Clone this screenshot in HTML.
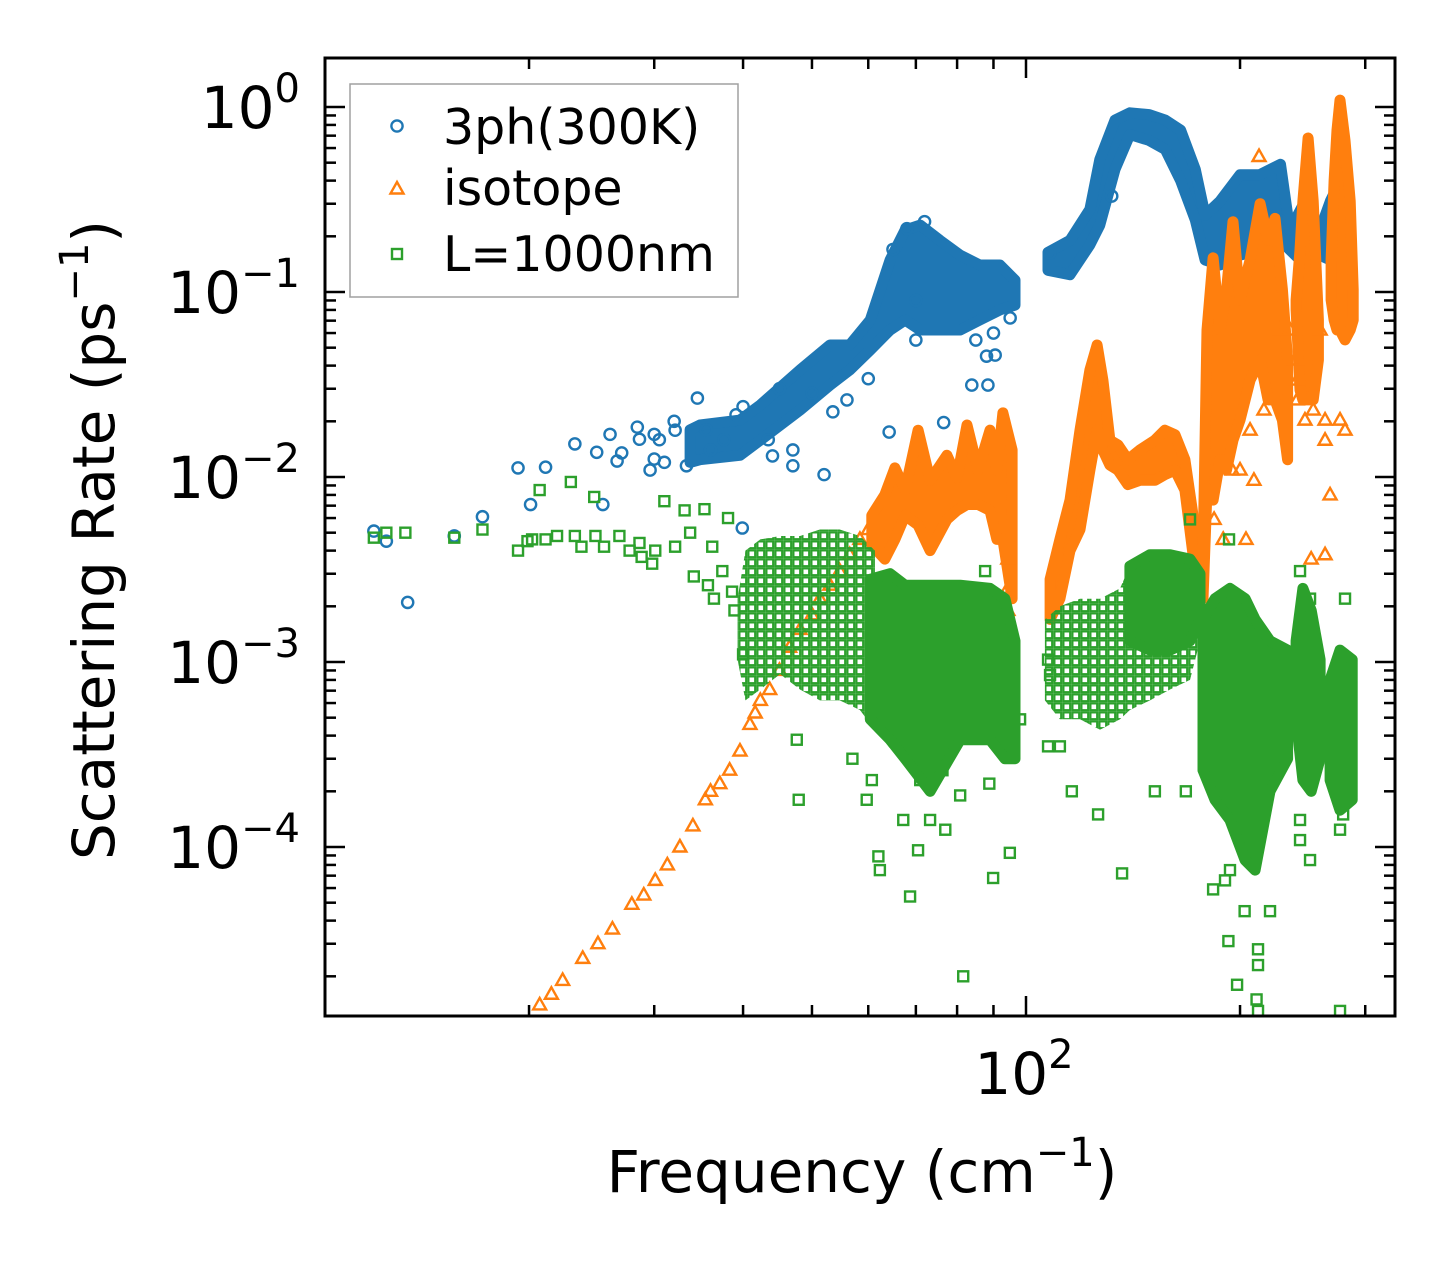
<!DOCTYPE html>
<html><head><meta charset="utf-8"><style>
html,body{margin:0;padding:0;background:#fff;}
svg{display:block;font-family:"DejaVu Sans","Liberation Sans",sans-serif;}
</style></head><body>
<svg id="chart" width="1455" height="1265" viewBox="0 0 1455 1265" xmlns="http://www.w3.org/2000/svg">
<defs>
<pattern id="gpat" patternUnits="userSpaceOnUse" width="9" height="9">
<rect x="1.3" y="1.3" width="7" height="7" fill="none" stroke="#2ca02c" stroke-width="2.4"/>
</pattern>
<clipPath id="clip"><rect x="325" y="58" width="1070" height="958"/></clipPath>
</defs>
<rect x="0" y="0" width="1455" height="1265" fill="#fff"/>
<g id="marks" clip-path="url(#clip)"></g>
<g id="axes"></g>
</svg>
<script>
// ---- data ----
const blueBand1Freq=[33.7,34.8,39.6,42.3,48.1,53.0,56.5,60.4,64.4,67.6,71.0,75.7,80.8,86.1,91.9,96.5];
const blueBand1Lo=[0.012,0.0124,0.0131,0.0158,0.023,0.0314,0.0379,0.0486,0.0623,0.0706,0.0623,0.0623,0.0623,0.0706,0.080,0.085];
const blueBand1Hi=[0.018,0.0191,0.0203,0.0245,0.0379,0.0517,0.0517,0.0706,0.149,0.216,0.23,0.19,0.158,0.14,0.14,0.116];
const blueBand2Freq=[107.4,115.3,123,127,133.4,140,149,157,165,173,178.6,187.5,200,213,228,235,247,259,268,281];
const blueBand2Lo=[0.131,0.124,0.18,0.23,0.46,0.71,0.66,0.59,0.40,0.245,0.149,0.14,0.158,0.169,0.19,0.169,0.14,0.158,0.149,0.29];
const blueBand2Hi=[0.164,0.19,0.28,0.52,0.85,0.93,0.91,0.85,0.75,0.46,0.26,0.31,0.43,0.43,0.49,0.216,0.31,0.216,0.31,0.45];
const blueFreq=[12.1,12.6,13.5,15.7,17.2,19.3,20.1,21.1,23.2,24.9,25.4,26.6,28.4,29.6,30.5,32.1,33.3,34.5,35.5,37.6,39.1,39.9,43.4,47,52,56,64.2,76.6,83.9,88.4,90.5,95,53.5,50,132,108,40,45,60,70,85,90,88,70,65,68,72,47,44,36,31,30,27,28.6,32,30,26];
const blueRate=[0.0051,0.0045,0.0021,0.0048,0.0061,0.0112,0.0071,0.0113,0.0151,0.0136,0.0071,0.0122,0.0186,0.0109,0.0159,0.0179,0.0115,0.0267,0.018,0.0159,0.0217,0.0053,0.0159,0.0115,0.0103,0.0261,0.0175,0.0197,0.0314,0.0314,0.0456,0.0724,0.0225,0.0284,0.33,0.162,0.024,0.03,0.034,0.055,0.055,0.06,0.045,0.09,0.17,0.22,0.24,0.014,0.013,0.014,0.012,0.0125,0.0135,0.016,0.02,0.017,0.017];

const isoCurveFreq=[20.7,21.5,22.3,23.8,25,26.2,27.9,29,30.1,31.3,32.6,34,35.4,36,37.1,38.3,39.6,40.9,41.6,42.3,43.6,45,46.5,48.1,50,51.3,53,54.7,56.5,58.4,60,61.3];
const isoCurveRate=[1.4e-5,1.6e-5,1.9e-5,2.5e-5,3e-5,3.6e-5,4.9e-5,5.5e-5,6.6e-5,8e-5,1.0e-4,1.3e-4,1.8e-4,2e-4,2.2e-4,2.6e-4,3.3e-4,4.6e-4,5.3e-4,6.2e-4,7.1e-4,9e-4,1.2e-3,1.5e-3,1.8e-3,2.2e-3,2.6e-3,3.1e-3,3.8e-3,4.6e-3,5.2e-3,5.9e-3];
const isoBand1Freq=[60.7,63.3,65.4,67.6,70.5,73.3,77.4,80.0,82.6,85.6,89.0,91.0,92.8,95.6];
const isoBand1Hi=[0.0062,0.0080,0.0112,0.0085,0.0179,0.0096,0.0131,0.0099,0.0191,0.0109,0.0179,0.0109,0.0222,0.0140];
const isoBand1Lo=[0.0043,0.0036,0.0046,0.0062,0.0055,0.0040,0.0059,0.0066,0.0071,0.0071,0.0066,0.0046,0.0046,0.0022];
const isoBand2Freq=[108.1,111.6,115.3,119.1,123,125.9,128.3,131.2,134.7,139.1,144.6,151.8,156.8,162,167.3,172.9];
const isoBand2Hi=[0.0028,0.0046,0.0075,0.0179,0.0379,0.0517,0.0334,0.0158,0.0149,0.0124,0.0140,0.0158,0.0179,0.0169,0.0124,0.0052];
const isoBand2Lo=[0.0017,0.0022,0.0040,0.0052,0.0109,0.0179,0.0140,0.0116,0.0109,0.0091,0.0096,0.0096,0.0103,0.0109,0.0085,0.0031];
const isoBand3Freq=[177.4,179.7,183.3,187.5,191.4,195.5,200.0,206.6,213.4,219.0,224.0,229.4,233.3];
const isoBand3Hi=[0.0036,0.0623,0.153,0.0623,0.102,0.24,0.0906,0.149,0.30,0.19,0.25,0.103,0.0429];
const isoBand3Lo=[0.0022,0.0085,0.0075,0.0124,0.0109,0.0158,0.0203,0.0334,0.0429,0.0261,0.0261,0.0203,0.0124];
const isoBand4Freq=[239.8,242.9,245.2,249.3,253.5,257.8];
const isoBand4Hi=[0.0906,0.169,0.31,0.68,0.31,0.0706];
const isoBand4Lo=[0.080,0.0295,0.0261,0.0261,0.0261,0.0429];
const isoBand5Freq=[268.6,271.2,273.8,276.5,281,285.7,288.5];
const isoBand5Hi=[0.149,0.40,0.75,1.09,0.66,0.31,0.103];
const isoBand5Lo=[0.0906,0.0706,0.0623,0.0623,0.0551,0.0623,0.0706];
const isoFreq=[212.7,239.1,240.6,240.6,246.8,253.5,263.4,276.5,281,267.7,203.9,216.1,209.2,251.8,263.4,194.9,183.9,189.4,200,94.3,94.3,94.3,206.6,227.7,259.2,263.4,235.2];
const isoRate=[0.54,0.0429,0.0334,0.0261,0.0203,0.023,0.0158,0.0203,0.0179,0.0080,0.0046,0.023,0.0096,0.0036,0.0038,0.0109,0.0059,0.0046,0.0109,0.0036,0.0025,0.0019,0.0179,0.0623,0.0623,0.0203,0.0623];

const bndSparse1Freq=[39.3,40.3,42.3,45.1,48.1,51.3,54.7,58.4,61.3];
const bndSparse1Hi=[0.0022,0.0040,0.0046,0.0048,0.0048,0.0052,0.0052,0.0048,0.0040];
const bndSparse1Lo=[0.00103,0.00062,0.00071,0.00086,0.00071,0.00062,0.00062,0.00055,0.00043];
const bndSparse2Freq=[106.3,111.6,119.1,127.1,135.6,140,149.4,159.4,170.1,175.7];
const bndSparse2Hi=[0.0017,0.0020,0.0022,0.0022,0.0025,0.0033,0.0038,0.0038,0.0036,0.0030];
const bndSparse2Lo=[0.00062,0.00049,0.00049,0.00043,0.00049,0.00055,0.00062,0.00071,0.00080,0.0013];
const bndDense1Freq=[60.4,64.4,67.6,73.3,80.8,89.0,93.4,96.5];
const bndDense1Hi=[0.0028,0.0030,0.0026,0.0026,0.0026,0.0025,0.0022,0.0013];
const bndDense1Lo=[0.00049,0.00038,0.00030,0.00020,0.00038,0.00038,0.00030,0.00030];
const bndDense2Freq=[140,149.4,159.4,170.1,175.7];
const bndDense2Hi=[0.0033,0.0038,0.0038,0.0036,0.0030];
const bndDense2Lo=[0.0013,0.00116,0.00116,0.0013,0.0017];
const bndDense3Freq=[177.4,184.4,193.6,203.3,210.0,220.4,233.3];
const bndDense3Hi=[0.0017,0.0022,0.0025,0.0022,0.0017,0.0013,0.00116];
const bndDense3Lo=[0.00026,0.00018,0.00014,0.000085,0.000075,0.00020,0.00030];
const bndDense4Freq=[239.8,245.2,251.8,259.2];
const bndDense4Hi=[0.0013,0.0025,0.0019,0.00103];
const bndDense4Lo=[0.00049,0.00023,0.0002,0.0003];
const bndDense5Freq=[267.7,276.5,287.6];
const bndDense5Hi=[0.0008,0.00116,0.00103];
const bndDense5Lo=[0.00023,0.000158,0.00018];
const bndFreq=[12.1,12.6,13.4,15.7,17.2,19.3,19.9,20.2,20.7,21.1,21.9,22.9,23.2,23.7,24.7,24.8,25.5,26.8,27.7,28.6,28.8,29.8,30.1,31.0,32.1,33.1,33.7,34.1,35.3,35.7,36.4,36.2,38.1,38.6,37.4,38.9,40.0,
47.6,47.9,59.7,62.3,62,68.7,81.6,89.9,94.9,76.3,80.8,88.8,73.3,57.0,60.7,67.2,71.0,70.5,77.0,107.4,111.6,116,126.3,136.5,151.8,167.8,183.3,192.6,198.1,212,212,220.4,242.9,276.5,279.3,98.1,170.1,193,242.9,250.9,281,87.6,107.4,108.1,193.6,203,190.5,242.9,250.9,276.5,211,212];
const bndRate=[0.0047,0.0050,0.0050,0.0047,0.0052,0.0040,0.0045,0.0046,0.0085,0.0046,0.0048,0.0094,0.0048,0.0042,0.0078,0.0048,0.0042,0.0048,0.0040,0.0044,0.0037,0.0034,0.0040,0.0074,0.0042,0.0066,0.0050,0.0029,0.0067,0.0026,0.0022,0.0042,0.0060,0.0024,0.0031,0.0019,0.0011,
0.00038,0.00018,0.00018,0.000075,0.000089,0.000054,0.000020,0.000068,0.000093,0.00026,0.00019,0.00022,0.00014,0.00030,0.00023,0.00014,0.00023,0.000096,0.000124,0.00035,0.00035,0.00020,0.00015,0.000072,0.00020,0.00020,0.000059,0.000031,0.000018,0.000028,0.000013,0.000045,0.00014,0.000013,0.00015,0.00049,0.0059,0.0046,0.0031,0.0022,0.0022,0.0031,0.00103,0.00085,0.000075,0.000045,0.000066,0.000109,0.000085,0.000124,0.000015,0.000023];

const yMajorExp=[0,-1,-2,-3,-4];
const xMinorVals=[20,30,40,50,60,70,80,90,200,300];
const xMajorVals=[100];

// ---- axes ----
const X0=325,X1=1395,Y0=58,Y1=1016;
const X=f=>1026+711*Math.log10(f/100);
const Y=r=>107-185*Math.log10(r);
const NS='http://www.w3.org/2000/svg';
const marks=document.getElementById('marks');
const axes=document.getElementById('axes');
const BLUE='#1f77b4',ORANGE='#ff7f0e',GREEN='#2ca02c';

function mk(tag,attrs,parent){const e=document.createElementNS(NS,tag);for(const k in attrs)e.setAttribute(k,attrs[k]);parent.appendChild(e);return e;}

function band(freqs,lo,hi,color,fill,parent,name){
  const pts=[];
  for(let i=0;i<freqs.length;i++)pts.push(X(freqs[i]).toFixed(1)+','+Y(hi[i]).toFixed(1));
  for(let i=freqs.length-1;i>=0;i--)pts.push(X(freqs[i]).toFixed(1)+','+Y(lo[i]).toFixed(1));
  const p=mk('polygon',{points:pts.join(' '),fill:fill,stroke:color,'stroke-width':11,'stroke-linejoin':'round'},parent);
  
  
}
function circle(cx,cy,parent){
  const c=mk('circle',{cx:cx,cy:cy,r:5.6,fill:'none',stroke:BLUE,'stroke-width':2.4},parent);
  
  
}
function tri(cx,cy,parent){
  const p=mk('polygon',{points:`${cx},${cy-7} ${cx-6.5},${cy+4.5} ${cx+6.5},${cy+4.5}`,fill:'none',stroke:ORANGE,'stroke-width':2.4},parent);
  
  
}
function sq(cx,cy,parent){
  const r=mk('rect',{x:cx-5,y:cy-5,width:10,height:10,fill:'none',stroke:GREEN,'stroke-width':2.4},parent);
  
  
}

// series 3ph
const gB=mk('g',{},marks);


band(blueBand1Freq,blueBand1Lo,blueBand1Hi,BLUE,BLUE,gB,'3ph-band-low');
band(blueBand2Freq,blueBand2Lo,blueBand2Hi,BLUE,BLUE,gB,'3ph-band-high');
for(let i=0;i<blueFreq.length;i++)circle(X(blueFreq[i]),Y(blueRate[i]),gB);

// series isotope
const gO=mk('g',{},marks);


for(let i=0;i<isoCurveFreq.length;i++)tri(X(isoCurveFreq[i]),Y(isoCurveRate[i]),gO);
band(isoBand1Freq,isoBand1Lo,isoBand1Hi,ORANGE,ORANGE,gO,'isotope-band-1');
band(isoBand2Freq,isoBand2Lo,isoBand2Hi,ORANGE,ORANGE,gO,'isotope-band-2');
band(isoBand3Freq,isoBand3Lo,isoBand3Hi,ORANGE,ORANGE,gO,'isotope-band-3');
band(isoBand4Freq,isoBand4Lo,isoBand4Hi,ORANGE,ORANGE,gO,'isotope-band-4');
band(isoBand5Freq,isoBand5Lo,isoBand5Hi,ORANGE,ORANGE,gO,'isotope-band-5');
for(let i=0;i<isoFreq.length;i++)tri(X(isoFreq[i]),Y(isoRate[i]),gO);

// series boundary
const gG=mk('g',{},marks);


band(bndSparse1Freq,bndSparse1Lo,bndSparse1Hi,'none','url(#gpat)',gG,'boundary-band-sparse-1');
band(bndSparse2Freq,bndSparse2Lo,bndSparse2Hi,'none','url(#gpat)',gG,'boundary-band-sparse-2');
band(bndDense1Freq,bndDense1Lo,bndDense1Hi,GREEN,GREEN,gG,'boundary-band-1');
band(bndDense2Freq,bndDense2Lo,bndDense2Hi,GREEN,GREEN,gG,'boundary-band-2');
band(bndDense3Freq,bndDense3Lo,bndDense3Hi,GREEN,GREEN,gG,'boundary-band-3');
band(bndDense4Freq,bndDense4Lo,bndDense4Hi,GREEN,GREEN,gG,'boundary-band-4');
band(bndDense5Freq,bndDense5Lo,bndDense5Hi,GREEN,GREEN,gG,'boundary-band-5');
for(let i=0;i<bndFreq.length;i++)sq(X(bndFreq[i]),Y(bndRate[i]),gG);

// ticks
function tick(x1,y1,x2,y2,name){
  const l=mk('line',{x1:x1,y1:y1,x2:x2,y2:y2,stroke:'#000','stroke-width':2.5},axes);
  
  
}
for(const e of yMajorExp){
  const y=Y(Math.pow(10,e));
  tick(X0,y,X0+20,y,'y-major-tick');
  tick(X1,y,X1-20,y,'y-major-tick');
  const t=mk('text',{x:300,y:y+21,'text-anchor':'end','font-size':58,fill:'#000'},axes);
  
  
  t.appendChild(document.createTextNode('10'));
  const s=mk('tspan',{'font-size':40,dy:-26},t);
  s.textContent=e===0?'0':'\u2212'+(-e);
}
for(let e=-5;e<=0;e++){
  for(let m=2;m<=9;m++){
    const y=Y(m*Math.pow(10,e));
    if(y<Y0||y>Y1)continue;
    tick(X0,y,X0+11,y,'y-minor-tick');
    tick(X1,y,X1-11,y,'y-minor-tick');
  }
}
for(const v of xMinorVals){
  const x=X(v);
  tick(x,Y1,x,Y1-11,'x-minor-tick');
  tick(x,Y0,x,Y0+11,'x-minor-tick');
}
for(const v of xMajorVals){
  const x=X(v);
  tick(x,Y1,x,Y1-20,'x-major-tick');
  tick(x,Y0,x,Y0+20,'x-major-tick');
  const t=mk('text',{x:x-2,y:1094,'text-anchor':'middle','font-size':58,fill:'#000'},axes);
  
  
  t.appendChild(document.createTextNode('10'));
  const s=mk('tspan',{'font-size':40,dy:-26},t);
  s.textContent=String(Math.round(Math.log10(v)));
}
const frame=mk('rect',{x:X0,y:Y0,width:X1-X0,height:Y1-Y0,fill:'none',stroke:'#000','stroke-width':3},axes);


</script>
<script>
(function(){
const NS='http://www.w3.org/2000/svg';
const svg=document.getElementById('chart');
function add(tag,attrs,txt){const e=document.createElementNS(NS,tag);for(const k in attrs)e.setAttribute(k,attrs[k]);if(txt)e.textContent=txt;svg.appendChild(e);return e;}
const xl=add('text',{x:862,y:1192,'text-anchor':'middle','font-size':58,fill:'#000'});


xl.innerHTML='Frequency (cm<tspan font-size="40" dy="-26">\u22121</tspan><tspan dy="26">)</tspan>';
const yl=add('text',{x:0,y:0,'text-anchor':'middle','font-size':58,fill:'#000',transform:'translate(114,540) rotate(-90)'});


yl.innerHTML='Scattering Rate (ps<tspan font-size="40" dy="-26">\u22121</tspan><tspan dy="26">)</tspan>';
const lg=add('g',{});


function lgAdd(tag,attrs,txt){const e=document.createElementNS(NS,tag);for(const k in attrs)e.setAttribute(k,attrs[k]);if(txt)e.textContent=txt;lg.appendChild(e);return e;}
const box=lgAdd('rect',{x:350,y:84,width:388,height:213,fill:'#fff','fill-opacity':0.8,stroke:'#a0a0a0','stroke-width':1.5});


const m1=lgAdd('circle',{cx:397,cy:126,r:5.6,fill:'none',stroke:'#1f77b4','stroke-width':2.4});


const t1=lgAdd('text',{x:443,y:144,'font-size':49,fill:'#000'},'3ph(300K)');


const m2=lgAdd('polygon',{points:'397,182 390.5,193.5 403.5,193.5',fill:'none',stroke:'#ff7f0e','stroke-width':2.4});


const t2=lgAdd('text',{x:443,y:205,'font-size':49,fill:'#000'},'isotope');


const m3=lgAdd('rect',{x:392,y:249,width:10,height:10,fill:'none',stroke:'#2ca02c','stroke-width':2.4});


const t3=lgAdd('text',{x:443,y:271,'font-size':49,fill:'#000'},'L=1000nm');


})();
</script>
</body></html>
